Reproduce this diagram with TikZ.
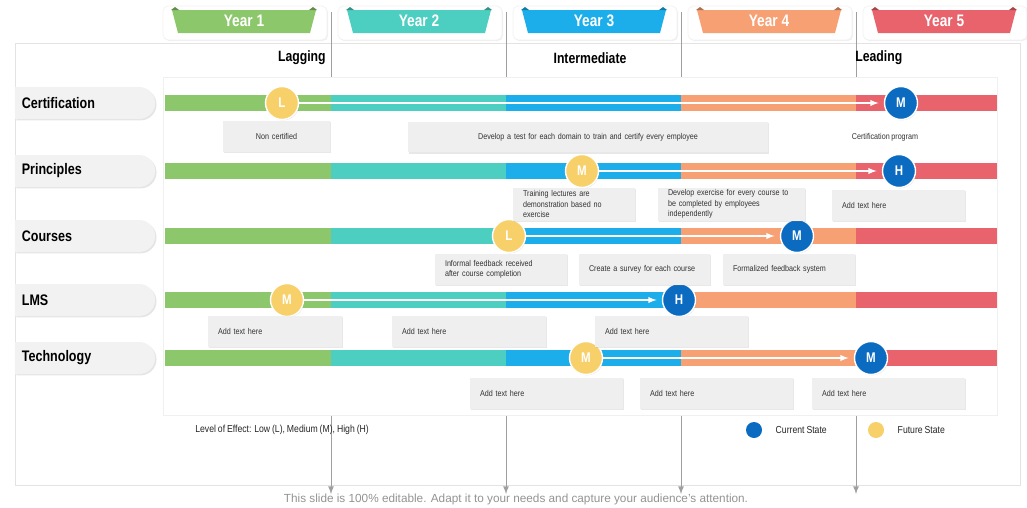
\documentclass[tikz,border=0pt]{standalone}
\usepackage{fontspec}
\setmainfont{Liberation Sans}
\newfontfamily\condfont{Liberation Sans}[FakeStretch=0.85, WordSpace=0.8]
\newfontfamily\headfont{Liberation Sans}[FakeStretch=0.82]
\usetikzlibrary{shapes,arrows,positioning,shadows}
\definecolor{yrgreen}{HTML}{8DC76C}
\definecolor{yrteal}{HTML}{4CCFC0}
\definecolor{yrblue}{HTML}{1BAEEA}
\definecolor{yrorange}{HTML}{F6A073}
\definecolor{yrred}{HTML}{E9636C}
\definecolor{curblue}{HTML}{0B6BC0}
\definecolor{futyellow}{HTML}{F7D06A}
\definecolor{boxgray}{HTML}{EFEFEF}
\definecolor{pillgray}{HTML}{F2F2F2}
\tikzstyle{panel} = [fill=white, draw=gray!22, line width=0.4pt]
\tikzstyle{tabbox} = [fill=white, draw=gray!10, rounded corners=3pt, minimum width=3.28cm, minimum height=0.68cm, drop shadow={opacity=0.12, shadow xshift=0.6pt, shadow yshift=-0.6pt}]
\tikzstyle{yearlabel} = [text=white, inner sep=0pt, font=\headfont\bfseries\fontsize{9.5}{10}\selectfont]
\tikzstyle{stage} = [inner sep=0pt, font=\headfont\bfseries\fontsize{8.5}{9}\selectfont]
\tikzstyle{pill} = [rounded rectangle, rounded rectangle west arc=none, fill=pillgray, minimum width=3.04cm, minimum height=0.64cm, drop shadow={opacity=0.2, shadow xshift=0.8pt, shadow yshift=-0.8pt}]
\tikzstyle{rowlabel} = [inner sep=0pt, font=\headfont\bfseries\fontsize{8.7}{9}\selectfont]
\tikzstyle{state} = [circle, minimum size=0.66cm, inner sep=0pt, draw=white, line width=0.8pt, text=white, font=\headfont\bfseries\fontsize{8}{8}\selectfont, drop shadow={opacity=0.2, shadow xshift=0.5pt, shadow yshift=-0.5pt}]
\tikzstyle{curstate} = [state, fill=curblue]
\tikzstyle{futstate} = [state, fill=futyellow]
\tikzstyle{progress} = [draw=white, line width=0.6pt, -latex, shorten >=3pt]
\tikzstyle{note} = [fill=boxgray, text=black!80, font=\condfont\fontsize{4.8}{5.8}\selectfont, inner xsep=0.2cm, inner ysep=1pt, minimum height=0.62cm, align=left, drop shadow={opacity=0.18, shadow xshift=0.8pt, shadow yshift=-0.8pt}]
\tikzstyle{guide} = [draw=gray!75, line width=0.5pt, -latex]
\tikzstyle{legend} = [inner sep=0pt, text=black!85, font=\condfont\fontsize{5.8}{6.5}\selectfont]
\tikzstyle{dot} = [circle, minimum size=0.32cm, inner sep=0pt]

\begin{document}
\begin{tikzpicture}[x=0.02cm, y=-0.02cm]
\useasboundingbox (0,0) rectangle (1027,507);

% frame and year guides
\draw[panel] (15,43) rectangle (1020,485);
\foreach \x [count=\i] in {331,506,681,856} {
    \coordinate (gtop\i) at (\x,12);
    \coordinate (gbot\i) at (\x,494);
    \draw[guide] (gtop\i) -- (gbot\i);
}

% year tabs
\foreach \x/\c/\t [count=\i] in {244/yrgreen/Year 1, 419/yrteal/Year 2, 594/yrblue/Year 3, 769/yrorange/Year 4, 944/yrred/Year 5} {
    \node[tabbox] (tab\i) at (\x+1,23) {};
    \fill[\c] (\x-72,10) -- (\x+72,10) -- (\x+66,33) -- (\x-66,33) -- cycle;
    \fill[\c!70!black] (\x-73,10) -- (\x-69,7) -- (\x-65,10) -- cycle;
    \fill[\c!70!black] (\x+73,10) -- (\x+69,7) -- (\x+65,10) -- cycle;
    \node[yearlabel] (year\i) at (\x,21) {\t};
}

\node[stage, anchor=east] (lagging) at (326,58) {Lagging};
\node[stage] (intermediate) at (590,58) {Intermediate};
\node[stage, anchor=west] (leading) at (855,58) {Leading};

\draw[panel, draw=gray!12] (163,77) rectangle (997,415);

% bars
\foreach \y in {103,171,236,300,358} {
    \foreach \a/\b/\c in {165/331/yrgreen, 331/506/yrteal, 506/681/yrblue, 681/856/yrorange, 856/997/yrred}
        \fill[\c] (\a,\y-8) rectangle (\b,\y+8);
}

% row names
\node[pill] (pcert) at (85,103) {};
\node[rowlabel, right=0.14cm of pcert.west] (lcert) {Certification};
\node[pill] (pprin) at (85,171) {};
\node[rowlabel, right=0.14cm of pprin.west] (lprin) {Principles};
\node[pill] (pcour) at (85,236) {};
\node[rowlabel, right=0.14cm of pcour.west] (lcour) {Courses};
\node[pill] (plms) at (85,300) {};
\node[rowlabel, right=0.14cm of plms.west] (llms) {LMS};
\node[pill] (ptech) at (85,358) {};
\node[rowlabel, right=0.14cm of ptech.west] (ltech) {Technology};

% states
\node[futstate] (fcert) at (282,103) {L};
\node[curstate] (ccert) at (901,103) {M};
\draw[progress] (fcert) -- (ccert);
\node[futstate] (fprin) at (582,171) {M};
\node[curstate] (cprin) at (899,171) {H};
\draw[progress] (fprin) -- (cprin);
\node[futstate] (fcour) at (509,236) {L};
\node[curstate] (ccour) at (797,236) {M};
\draw[progress] (fcour) -- (ccour);
\node[futstate] (flms) at (287,300) {M};
\node[curstate] (clms) at (679,300) {H};
\draw[progress] (flms) -- (clms);
\node[futstate] (ftech) at (586,358) {M};
\node[curstate] (ctech) at (871,358) {M};
\draw[progress] (ftech) -- (ctech);

% notes
\node[note, text width=1.74cm, align=center] (ncert) at (276.5,136.5) {Non certified};
\node[note, text width=6.8cm, align=center] (ntest) at (588,137) {Develop a test for each domain to train and certify every employee};
\node[inner sep=0pt, text=black!80, font=\condfont\fontsize{4.8}{5.8}\selectfont] (nprog) at (885,137) {Certification program};

\node[note, text width=2.04cm, minimum height=0.66cm] (ntrain) at (574,204) {Training lectures are\\demonstration based no\\exercise};
\node[note, text width=2.54cm, minimum height=0.66cm] (nexer) at (731.5,204) {Develop exercise for every course to\\be completed by employees\\independently};
\node[note, text width=2.26cm] (nprin) at (898.5,205) {Add text here};

\node[note, text width=2.24cm] (ninf) at (501,269.5) {Informal feedback received\\after course completion};
\node[note, text width=2.22cm] (nsurv) at (644.5,269.5) {Create a survey for each course};
\node[note, text width=2.24cm] (nform) at (789,269.5) {Formalized feedback system};

\node[note, text width=2.28cm] (nlmsa) at (275,331.5) {Add text here};
\node[note, text width=2.68cm] (nlmsb) at (469,331.5) {Add text here};
\node[note, text width=2.66cm] (nlmsc) at (671.5,331.5) {Add text here};

\node[note, text width=2.66cm] (ntecha) at (546.5,393) {Add text here};
\node[note, text width=2.66cm] (ntechb) at (716.5,393) {Add text here};
\node[note, text width=2.66cm] (ntechc) at (888.5,393) {Add text here};

% legend
\node[legend, anchor=west] (effect) at (195,430) {Level of Effect: Low (L), Medium (M), High (H)};
\node[dot, fill=curblue] (dcur) at (754,430) {};
\node[legend, right=0.26cm of dcur] (tcur) {Current State};
\node[dot, fill=futyellow] (dfut) at (876,430) {};
\node[legend, right=0.26cm of dfut] (tfut) {Future State};

\node[inner sep=0pt, text=gray!85, font=\fontsize{6.7}{7.5}\selectfont] (caption) at (516,499) {This slide is 100\% editable. Adapt it to your needs and capture your audience's attention.};
\end{tikzpicture}
\end{document}
